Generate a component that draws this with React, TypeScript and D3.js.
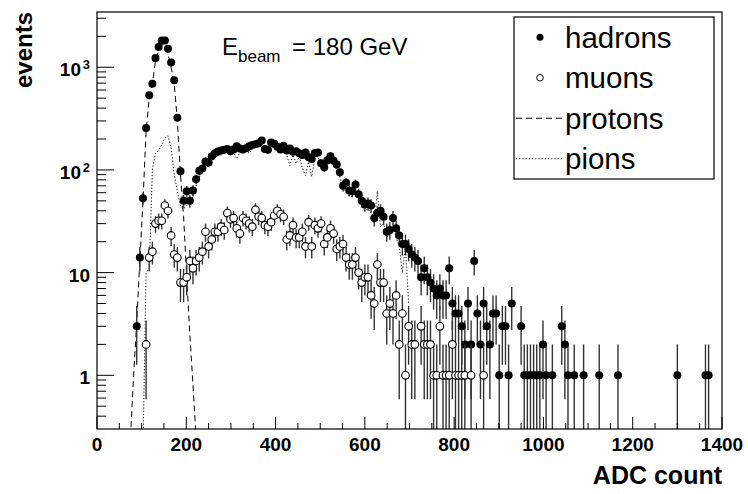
import React from "react";
import * as d3 from "d3";

const W = 748;
const H = 494;

// axis definitions
const xTickValues = [0, 200, 400, 600, 800, 1000, 1200, 1400];
const xTickLabels = ["0", "200", "400", "600", "800", "1000", "1200", "1400"];
const yMajorValues = [1, 10, 100, 1000];
const yMajorBase = ["1", "10", "10", "10"];
const yMajorSup = ["", "", "2", "3"];
const yMinorValues = [
  0.4, 0.5, 0.6, 0.7, 0.8, 0.9, 2, 3, 4, 5, 6, 7, 8, 9, 20, 30, 40, 50, 60, 70, 80, 90,
  200, 300, 400, 500, 600, 700, 800, 900, 2000, 3000,
];

// data: [ADC count (bin centre), events]
const hadrons: [number, number][] = [
  [89, 3], [96, 14], [103, 53], [110, 256], [117, 533], [124, 692], [131, 1230], [138, 1570],
  [145, 1820], [152, 1820], [159, 1516], [166, 1110], [173, 745], [180, 323], [187, 97], [194, 50],
  [201, 62], [208, 50], [215, 63], [222, 81], [229, 98], [236, 103], [243, 121], [250, 118],
  [257, 136], [264, 145], [271, 151], [278, 155], [285, 157], [292, 160], [299, 152], [306, 158],
  [313, 170], [320, 162], [327, 158], [334, 163], [341, 170], [348, 175], [355, 178], [362, 182],
  [369, 193], [376, 160], [383, 157], [390, 185], [397, 180], [404, 168], [411, 158], [418, 172],
  [425, 155], [432, 162], [439, 150], [446, 152], [453, 145], [460, 140], [467, 148], [474, 133],
  [481, 128], [488, 146], [495, 148], [502, 116], [509, 106], [516, 124], [523, 136], [530, 123],
  [537, 113], [544, 95], [551, 70], [558, 75], [565, 63], [572, 62], [579, 72], [586, 58],
  [593, 50], [600, 46], [607, 47], [614, 45], [621, 34], [628, 38], [635, 40], [642, 35],
  [649, 25], [656, 26], [663, 34], [670, 27], [677, 23], [684, 19], [691, 19], [698, 17],
  [705, 15], [712, 14], [719, 13], [726, 9], [733, 11], [740, 9], [747, 8], [754, 7],
  [761, 6], [768, 7], [775, 6], [782, 6], [789, 11], [796, 5], [803, 4], [810, 4],
  [817, 3], [824, 2], [831, 5], [838, 2], [845, 13], [852, 4], [859, 2], [866, 5],
  [873, 3], [880, 2], [887, 4], [894, 4], [901, 1], [908, 3], [915, 3], [922, 1],
  [929, 5], [950, 3], [957, 1], [964, 1], [971, 1], [978, 1], [985, 1], [992, 1],
  [999, 2], [1006, 1], [1020, 1], [1041, 3], [1048, 2], [1055, 1], [1069, 1], [1090, 1],
  [1125, 1], [1167, 1], [1300, 1], [1363, 1], [1370, 1],
];

const muons: [number, number][] = [
  [110, 2], [117, 14], [124, 16], [131, 30], [138, 32], [145, 32], [152, 45], [159, 40],
  [166, 23], [173, 15], [180, 14], [187, 8], [194, 8], [201, 9], [208, 13], [215, 11],
  [222, 13], [229, 14], [236, 16], [243, 25], [250, 18], [257, 21], [264, 25], [271, 25],
  [278, 28], [285, 26], [292, 38], [299, 33], [306, 34], [313, 27], [320, 24], [327, 34],
  [334, 32], [341, 30], [348, 28], [355, 41], [362, 35], [369, 34], [376, 29], [383, 28],
  [390, 31], [397, 36], [404, 40], [411, 37], [418, 35], [425, 21], [432, 23], [439, 29],
  [446, 22], [453, 22], [460, 25], [467, 18], [474, 31], [481, 18], [488, 29], [495, 27],
  [502, 30], [509, 19], [516, 22], [523, 27], [530, 24], [537, 17], [544, 18], [551, 19],
  [558, 14], [565, 12], [572, 12], [579, 14], [586, 10], [593, 8], [600, 9], [607, 9],
  [614, 6], [621, 5], [628, 12], [635, 8], [642, 8], [649, 4], [656, 5], [663, 4],
  [670, 6], [677, 2], [684, 4], [691, 1], [698, 3], [705, 2], [712, 2], [726, 3],
  [733, 2], [740, 2], [747, 2], [754, 1], [761, 1], [768, 3], [775, 1], [782, 1],
  [789, 1], [796, 2], [803, 1], [810, 1], [817, 1], [824, 1], [838, 1], [866, 1],
];

const protons: [number, number][] = [
  [75, 0.25], [82, 1.0], [89, 3.3], [96, 13], [103, 50], [110, 240], [117, 500], [124, 680],
  [131, 1150], [138, 1450], [145, 1650], [152, 1650], [159, 1350], [166, 1000], [173, 690],
  [180, 300], [187, 90], [194, 35], [201, 9], [208, 2.5], [215, 0.8], [222, 0.25],
];

const pions: [number, number][] = [
  [103, 0.2], [110, 10], [117, 11], [124, 100], [131, 145], [138, 155], [145, 175], [152, 205],
  [159, 215], [166, 165], [173, 90], [180, 62], [187, 44], [194, 42], [201, 45], [208, 48],
  [215, 55], [222, 70], [229, 85], [236, 95], [243, 105], [250, 110], [257, 125], [264, 130],
  [271, 140], [278, 140], [285, 150], [292, 150], [299, 140], [306, 150], [313, 128], [320, 150],
  [327, 150], [334, 155], [341, 145], [348, 160], [355, 165], [362, 170], [369, 175], [376, 150],
  [383, 150], [390, 170], [397, 165], [404, 160], [411, 150], [418, 160], [425, 140], [432, 110],
  [439, 140], [446, 115], [453, 135], [460, 104], [467, 88], [474, 120], [481, 86], [488, 130],
  [495, 135], [502, 105], [509, 95], [516, 110], [523, 120], [530, 112], [537, 100], [544, 85],
  [551, 62], [558, 65], [565, 55], [572, 55], [579, 60], [586, 52], [593, 44], [600, 40],
  [607, 42], [614, 38], [621, 30], [628, 62], [635, 28], [642, 30], [649, 22], [656, 24],
  [663, 28], [670, 22], [677, 18], [684, 10], [691, 18], [698, 5],
];

const legendLabels = ["hadrons", "muons", "protons", "pions"];

const FONT = "'Liberation Sans', Arial, Helvetica, sans-serif";

export default function App() {
  const left = 97, right = 722, top = 12, bottom = 429;
  const x = d3.scaleLinear().domain([0, 1400]).range([left, right]);
  const y = d3.scaleLog().domain([0.3, 3450]).range([bottom, top]);
  const yc = (v: number) => y(Math.max(v, 0.3));
  const xMinor = d3.range(0, 1401, 50).filter((v) => v % 200 !== 0);

  const line = d3
    .line<[number, number]>()
    .x((d) => x(d[0]))
    .y((d) => y(Math.max(d[1], 0.01)));

  const errBar = (d: [number, number], i: number) => {
    const e = Math.sqrt(d[1]);
    return (
      <line
        key={i}
        x1={x(d[0])}
        x2={x(d[0])}
        y1={yc(d[1] - e)}
        y2={yc(d[1] + e)}
        stroke="#333"
        strokeWidth={1.4}
      />
    );
  };

  const legendTop = 17, legendRow = 40.5;

  return (
    <svg
      width={W}
      height={H}
      style={{ position: "absolute", left: 0, top: 0, background: "#fff" }}
      fontFamily={FONT}
    >
      <defs>
        <clipPath id="plot">
          <rect x={left} y={top} width={right - left} height={bottom - top} />
        </clipPath>
      </defs>
      <rect x={0} y={0} width={W} height={H} fill="#fff" />

      <g clipPath="url(#plot)">
        <path d={line(protons) || ""} fill="none" stroke="#000" strokeWidth={1} strokeDasharray="6,4" />
        <path d={line(pions) || ""} fill="none" stroke="#000" strokeWidth={1} strokeDasharray="1.2,2" />
        {hadrons.map(errBar)}
        {hadrons.map((d, i) => (
          <circle key={i} cx={x(d[0])} cy={y(d[1])} r={4} fill="#000" />
        ))}
        {muons.map(errBar)}
        {muons.map((d, i) => (
          <circle key={i} cx={x(d[0])} cy={y(d[1])} r={3.8} fill="#fff" stroke="#000" strokeWidth={1.1} />
        ))}
      </g>

      {/* frame */}
      <rect x={left} y={top} width={right - left} height={bottom - top} fill="none" stroke="#000" strokeWidth={1.2} />

      {/* x axis ticks */}
      {xTickValues.map((v, i) => (
        <g key={"xt" + i}>
          <line x1={x(v)} x2={x(v)} y1={bottom} y2={bottom - 12} stroke="#000" strokeWidth={1} />
          <text x={x(v)} y={451} textAnchor="middle" fontSize={19} fontWeight="bold">
            {xTickLabels[i]}
          </text>
        </g>
      ))}
      {xMinor.map((v) => (
        <line key={"xm" + v} x1={x(v)} x2={x(v)} y1={bottom} y2={bottom - 6} stroke="#000" strokeWidth={1} />
      ))}

      {/* y axis ticks */}
      {yMajorValues.map((v, i) => (
        <g key={"yt" + i}>
          <line x1={left} x2={left + 17} y1={y(v)} y2={y(v)} stroke="#000" strokeWidth={1} />
          {yMajorSup[i] ? (
            <>
              <text x={81} y={y(v) + 9} textAnchor="end" fontSize={19} fontWeight="bold">
                {yMajorBase[i]}
              </text>
              <text x={90} y={y(v) + 2} textAnchor="end" fontSize={13} fontWeight="bold">
                {yMajorSup[i]}
              </text>
            </>
          ) : (
            <text x={90} y={y(v) + 9} textAnchor="end" fontSize={19} fontWeight="bold">
              {yMajorBase[i]}
            </text>
          )}
        </g>
      ))}
      {yMinorValues.map((v) => (
        <line key={"ym" + v} x1={left} x2={left + 9} y1={y(v)} y2={y(v)} stroke="#000" strokeWidth={1} />
      ))}

      {/* axis titles */}
      <text x={722} y={484} textAnchor="end" fontSize={25} fontWeight="bold">
        ADC count
      </text>
      <text transform="translate(32,12) rotate(-90)" textAnchor="end" fontSize={24} fontWeight="bold">
        events
      </text>

      {/* beam energy annotation */}
      <text x={222} y={55} fontSize={24}>E</text>
      <text x={238} y={62} fontSize={17}>beam</text>
      <text x={292} y={55} fontSize={24}>= 180 GeV</text>

      {/* legend */}
      <rect x={514} y={legendTop} width={200} height={162} fill="#fff" stroke="#000" strokeWidth={1.2} />
      {legendLabels.map((lab, i) => {
        const cy = legendTop + legendRow * (i + 0.5);
        return (
          <g key={lab}>
            {i === 0 && <circle cx={540} cy={cy} r={3.5} fill="#000" />}
            {i === 1 && <circle cx={540} cy={cy} r={3.3} fill="#fff" stroke="#000" strokeWidth={1} />}
            {i === 2 && <line x1={516} x2={562} y1={cy} y2={cy} stroke="#000" strokeDasharray="6,4" />}
            {i === 3 && <line x1={516} x2={562} y1={cy} y2={cy} stroke="#000" strokeDasharray="1.2,2" />}
            <text x={565} y={cy + 10.5} fontSize={29.5}>
              {lab}
            </text>
          </g>
        );
      })}
    </svg>
  );
}
